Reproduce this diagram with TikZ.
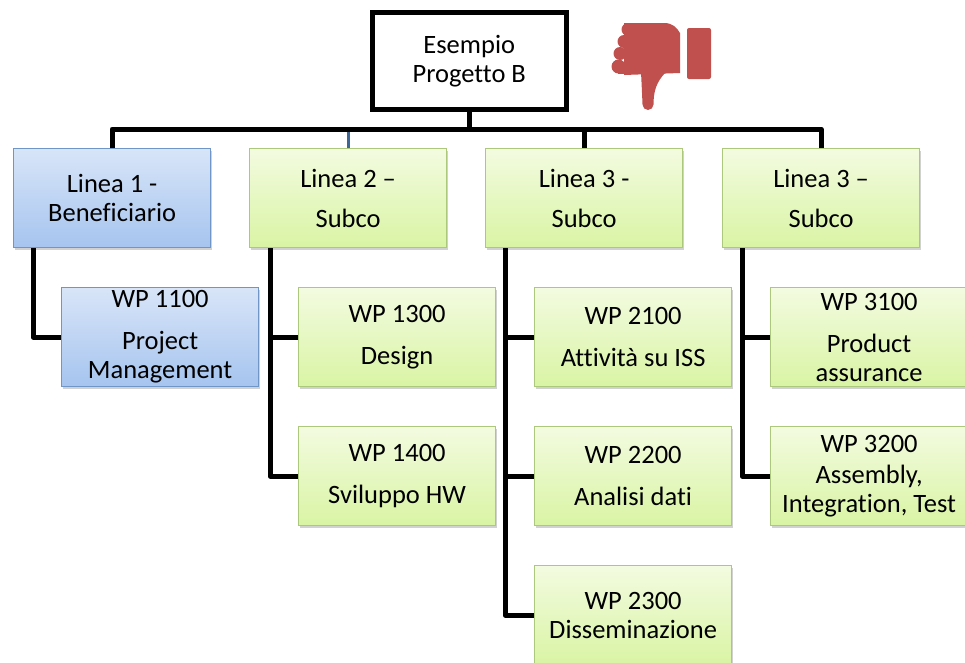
\documentclass[tikz,border=0pt]{standalone}
\usepackage{fontspec}
\setmainfont{Carlito}[Ligatures=NoCommon]
\usetikzlibrary{shadows}
\definecolor{bluetop}{HTML}{D8E5F8}
\definecolor{bluebot}{HTML}{A6C4EF}
\definecolor{blueedge}{HTML}{7096C8}
\definecolor{greentop}{HTML}{F3FBE0}
\definecolor{greenbot}{HTML}{D9F4A4}
\definecolor{greenedge}{HTML}{ABC87C}
\definecolor{thumbred}{HTML}{C0504D}
\definecolor{stemblue}{HTML}{3D6696}
\tikzset{
  wbs/.style={rectangle, minimum width=197pt, minimum height=99pt, inner sep=0pt,
    align=center, anchor=north west, line width=1.2pt,
    font=\fontsize{26.5pt}{29pt}\selectfont,
    drop shadow={shadow xshift=1.5pt, shadow yshift=-2pt, fill=black, opacity=0.18}},
  bluebox/.style={wbs, draw=blueedge, top color=bluetop, bottom color=bluebot},
  greenbox/.style={wbs, draw=greenedge, top color=greentop, bottom color=greenbot},
  rootbox/.style={rectangle, draw=black, fill=white, line width=5pt, minimum width=194.5pt,
    minimum height=97pt, inner sep=0pt, align=center, anchor=north west,
    font=\fontsize{26.5pt}{29pt}\selectfont},
  conn/.style={draw=black, line width=5pt, line join=round},
  thinconn/.style={draw=stemblue, line width=3pt}
}
\begin{document}
\begin{tikzpicture}[x=1pt, y=-1pt]
\useasboundingbox (0,0) rectangle (965,662);
\clip (0,0) rectangle (965,662);

% root
\node[rootbox] (root) at (369.5,10) {Esempio\\Progetto B};

% thumb down icon
\fill[thumbred, rounded corners=2pt] (687,28) rectangle (711,79);
\fill[thumbred] (624,23) -- (664,23) .. controls (673,23) and (677,28) .. (680,33)
  -- (680,73) -- (624,75) -- cycle;
\fill[thumbred] (628,29.5) circle (6.5);
\fill[thumbred] (624,41.5) circle (6.5);
\fill[thumbred] (620,53.5) circle (6.5);
\fill[thumbred] (618.5,66.5) circle (7);
\fill[thumbred] (618,66) rectangle (630,74);
\fill[thumbred] (641,72) -- (666,72) .. controls (656,82) and (653.5,92) .. (653.5,104.5)
  arc[start angle=0, end angle=180, radius=5.5]
  .. controls (642,92) and (641.5,82) .. (641,72) -- cycle;

% level 1
\node[bluebox]  (l1)  at (13,148)  {Linea 1 -\\Beneficiario};
\node[greenbox] (l2)  at (249,148) {Linea 2 –\\[11pt]Subco};
\node[greenbox] (l3a) at (485,148) {Linea 3 -\\[11pt]Subco};
\node[greenbox] (l3b) at (722,148) {Linea 3 –\\[11pt]Subco};

% level 2
\node[bluebox]  (wp1100) at (61,287)  {WP 1100\\[13pt]Project\\Management};
\node[greenbox] (wp1300) at (298,287) {WP 1300\\[13pt]Design};
\node[greenbox] (wp1400) at (298,426) {WP 1400\\[13pt]Sviluppo HW};
\node[greenbox] (wp2100) at (534,287) {WP 2100\\[13pt]Attività su ISS};
\node[greenbox] (wp2200) at (534,426) {WP 2200\\[13pt]Analisi dati};
\node[greenbox] (wp2300) at (534,565) {WP 2300\\Disseminazione};
\node[greenbox] (wp3100) at (770,287) {WP 3100\\[13pt]Product\\assurance};
\node[greenbox] (wp3200) at (770,426) {WP 3200\\[2pt]Assembly,\\Integration, Test};

% connectors level 0 -> 1
\coordinate (bar) at (466,129);
\draw[thinconn] (l2.north) -- (l2.north |- bar);
\draw[conn] (root.south) -- (root.south |- bar) -| (l1.north);
\draw[conn] (root.south |- bar) -| (l3b.north);
\draw[conn] (l3a.north |- bar) -- (l3a.north);

% connectors level 1 -> 2
\coordinate (s1) at ([xshift=20pt]l1.south west);
\coordinate (s2) at ([xshift=21pt]l2.south west);
\coordinate (s3) at ([xshift=20pt]l3a.south west);
\coordinate (s4) at ([xshift=20pt]l3b.south west);
\draw[conn] (s1) |- (wp1100.west);
\draw[conn] (s2) |- (wp1400.west);
\draw[conn] (s2 |- wp1300.west) -- (wp1300.west);
\draw[conn] (s3) |- (wp2300.west);
\draw[conn] (s3 |- wp2100.west) -- (wp2100.west);
\draw[conn] (s3 |- wp2200.west) -- (wp2200.west);
\draw[conn] (s4) |- (wp3200.west);
\draw[conn] (s4 |- wp3100.west) -- (wp3100.west);
\end{tikzpicture}
\end{document}
